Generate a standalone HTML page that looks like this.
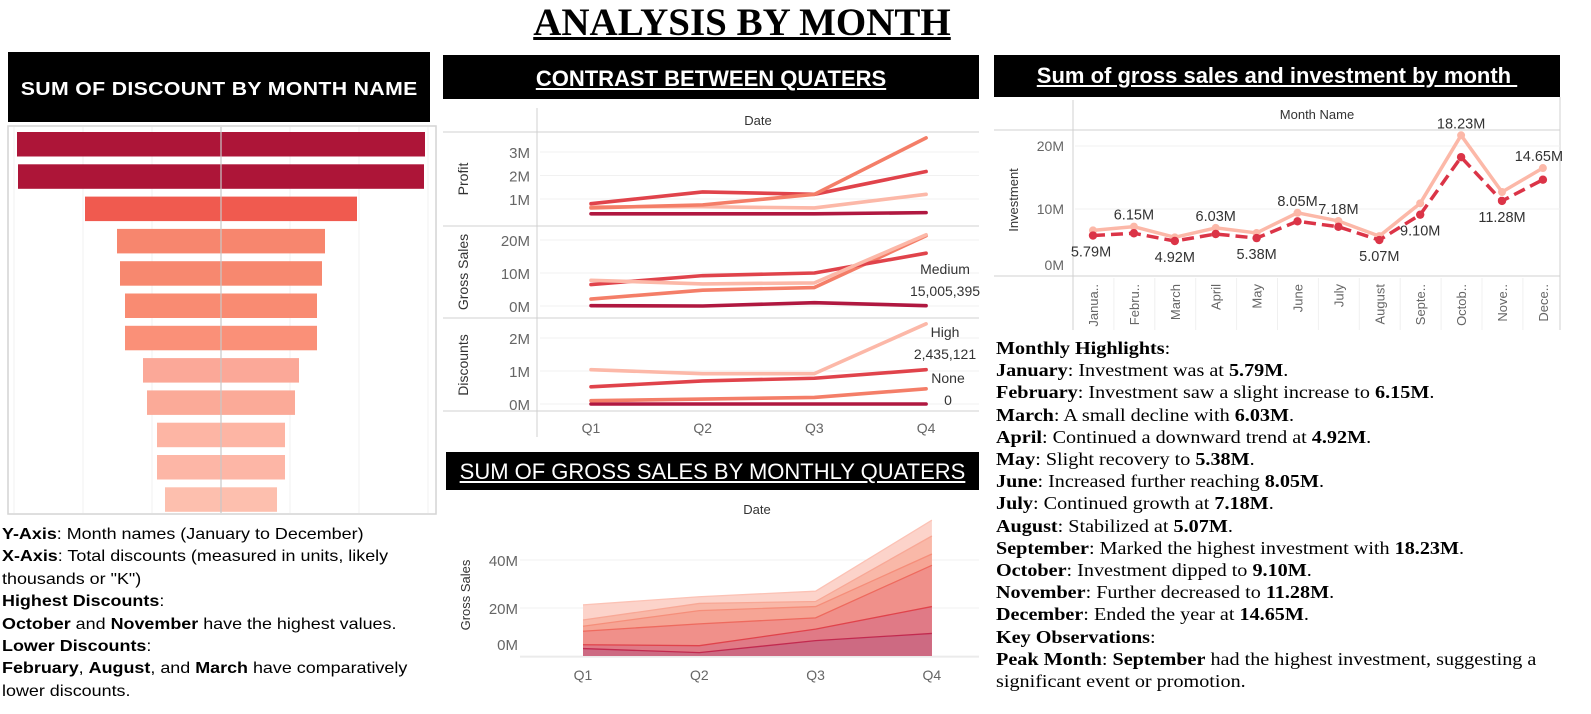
<!DOCTYPE html>
<html><head><meta charset="utf-8">
<style>
*{margin:0;padding:0;box-sizing:border-box}
body{width:1591px;height:714px;background:#fff;position:relative;overflow:hidden;font-family:"Liberation Sans",sans-serif}
.abs{position:absolute}
.box{position:absolute;background:#000;color:#fff;text-align:center;text-decoration:underline;white-space:nowrap}
.ltext{position:absolute;left:2px;top:524px;font-size:16px;line-height:22.4px;color:#000;white-space:nowrap;transform:scaleX(1.12);transform-origin:0 0}
.rtext{position:absolute;left:996px;top:337px;font-family:"Liberation Serif",serif;font-size:18px;line-height:22.2px;color:#000;white-space:nowrap;transform:scaleX(1.12);transform-origin:0 0}
svg text{font-family:"Liberation Sans",sans-serif}
</style></head><body>
<div class="abs" style="left:0;width:1484px;top:0px;text-align:center;font-family:'Liberation Serif',serif;font-weight:bold;font-size:39px;text-decoration:underline">ANALYSIS BY MONTH</div>

<div class="box" style="left:8px;top:52px;width:422px;height:70px;line-height:74px;font-size:18px;font-weight:bold;letter-spacing:0.3px"><span style="display:inline-block;transform:scaleX(1.18)">SUM OF DISCOUNT BY MONTH NAME</span></div>
<div class="box" style="left:443px;top:55px;width:536px;height:44px;line-height:48px;font-size:22px;font-weight:bold">CONTRAST BETWEEN QUATERS</div>
<div class="box" style="left:446px;top:452px;width:533px;height:38px;line-height:40px;font-size:22px">SUM OF GROSS SALES BY MONTHLY QUATERS</div>
<div class="box" style="left:994px;top:55px;width:566px;height:42px;line-height:42px;font-size:22px;font-weight:bold">Sum of gross sales and investment by month&nbsp;</div>

<svg id="chart" class="abs" style="left:0;top:0" width="1591" height="714"></svg>

<div class="ltext">
<b>Y-Axis</b>: Month names (January to December)<br>
<b>X-Axis</b>: Total discounts (measured in units, likely<br>thousands or "K")<br>
<b>Highest Discounts</b>:<br>
<b>October</b> and <b>November</b> have the highest values.<br>
<b>Lower Discounts</b>:<br>
<b>February</b>, <b>August</b>, and <b>March</b> have comparatively<br>lower discounts.
</div>

<div class="rtext">
<b>Monthly Highlights</b>:<br>
<b>January</b>: Investment was at <b>5.79M</b>.<br>
<b>February</b>: Investment saw a slight increase to <b>6.15M</b>.<br>
<b>March</b>: A small decline with <b>6.03M</b>.<br>
<b>April</b>: Continued a downward trend at <b>4.92M</b>.<br>
<b>May</b>: Slight recovery to <b>5.38M</b>.<br>
<b>June</b>: Increased further reaching <b>8.05M</b>.<br>
<b>July</b>: Continued growth at <b>7.18M</b>.<br>
<b>August</b>: Stabilized at <b>5.07M</b>.<br>
<b>September</b>: Marked the highest investment with <b>18.23M</b>.<br>
<b>October</b>: Investment dipped to <b>9.10M</b>.<br>
<b>November</b>: Further decreased to <b>11.28M</b>.<br>
<b>December</b>: Ended the year at <b>14.65M</b>.<br>
<b>Key Observations</b>:<br>
<b>Peak Month</b>: <b>September</b> had the highest investment, suggesting a<br>significant event or promotion.
</div>

<script>
// ---- Funnel (discount by month) ----
const funnelValues = [204, 203, 136, 104, 101, 96, 96, 78, 74, 64, 64, 56];
const funnelColors = ["#ad1538","#ad1538","#f05a4f","#f7866e","#f7886f","#f98b72","#fa9078","#fba898","#fbaa98","#fdb5a4","#fdb6a6","#fdbfae"];
// ---- Quarter lines ----
const quarters = ["Q1","Q2","Q3","Q4"];
const profitDark = [0.37,0.37,0.37,0.42];
const profitRed = [0.8,1.3,1.2,2.17];
const profitOrange = [0.62,0.75,1.2,3.6];
const profitLight = [0.67,0.67,0.62,1.2];
const grossDark = [0.1,0.0,1.0,0.1];
const grossRed = [6.5,9.2,10.0,16.0];
const grossOrange = [2.1,4.8,5.6,21.3];
const grossLight = [7.8,6.7,7.0,21.6];
const discDark = [0,0,0,0];
const discRed = [0.52,0.7,0.78,1.04];
const discOrange = [0.1,0.15,0.2,0.46];
const discLight = [1.04,0.92,0.92,2.43];
// ---- Area stacks (M) ----
const areaL1 = [3.1,1.4,6.4,9.4];
const areaL2 = [1.6,2.9,4.8,11.2];
const areaL3 = [5.6,9.1,4.7,17.2];
const areaL4 = [2.1,5.5,4.7,4.7];
const areaL5 = [2.6,3.0,2.1,7.5];
const areaL6 = [6.3,2.8,4.3,6.6];
// ---- Investment ----
const months = ["Janua..","Febru..","March","April","May","June","July","August","Septe..","Octob..","Nove..","Dece.."];
const investment = [5.79,6.15,4.92,6.03,5.38,8.05,7.18,5.07,9.10,18.23,11.28,14.65];
const investLabels = ["5.79M","6.15M","4.92M","6.03M","5.38M","8.05M","7.18M","5.07M","9.10M","18.23M","11.28M","14.65M"];
const labelBelow = [1,0,1,0,1,0,0,1,1,0,1,0];
const grossSales = [6.6,7.2,5.5,7.0,6.2,9.4,8.1,5.7,10.9,21.7,12.7,16.5];

const svg = document.getElementById('chart');
const NS = "http://www.w3.org/2000/svg";
function mk(tag, attrs, parent){const e=document.createElementNS(NS,tag);for(const k in attrs)e.setAttribute(k,attrs[k]);(parent||svg).appendChild(e);return e;}
function txt(x,y,s,attrs){const t=mk('text',Object.assign({x:x,y:y},attrs||{}));t.textContent=s;return t;}

// Funnel frame
const ff = mk('rect',{x:8,y:126,width:428,height:388,fill:'none',stroke:'#d4d4d4','stroke-width':1.5});


[14,83,152,290,359,428].forEach(x=>mk('line',{x1:x,x2:x,y1:127,y2:513,stroke:'#f0f0f0'}));
const fcx = 221;
funnelValues.forEach((v,i)=>{
  const y = 132 + i*32.3;
  const r = mk('rect',{x:fcx-v,y:y,width:2*v,height:24.5,fill:funnelColors[i]});
  
  
});
mk('line',{x1:fcx,x2:fcx,y1:127,y2:513,stroke:'#c8c8c8','stroke-width':1.2});

// Quarter multi-panel
const qx = i => 591 + i*111.7;
mk('line',{x1:443,x2:979,y1:132,y2:132,stroke:'#d0d0d0'});
mk('line',{x1:443,x2:979,y1:226,y2:226,stroke:'#d0d0d0'});
mk('line',{x1:443,x2:979,y1:318,y2:318,stroke:'#d0d0d0'});
mk('line',{x1:443,x2:979,y1:411,y2:411,stroke:'#d0d0d0'});
mk('line',{x1:537,x2:537,y1:108,y2:437,stroke:'#d0d0d0'});
const dh = txt(758,125,'Date',{'font-size':13,fill:'#333','text-anchor':'middle'});


const panels = [
  {name:'Profit',zero:222.5,scale:23.5,ticks:[1,2,3],fmt:v=>v+'M',series:[profitDark,profitLight,profitRed,profitOrange]},
  {name:'Gross Sales',zero:306,scale:3.3,ticks:[0,10,20],fmt:v=>v+'M',series:[grossDark,grossOrange,grossRed,grossLight]},
  {name:'Discounts',zero:404,scale:33,ticks:[0,1,2],fmt:v=>v+'M',series:[discDark,discOrange,discRed,discLight]}
];
const qColors = {d:'#b01840',r:'#e0434b',o:'#f47e68',l:'#fcb8a8'};
panels.forEach((p,pi)=>{
  const yOf = v => p.zero - v*p.scale;
  p.ticks.forEach(t=>{
    mk('line',{x1:540,x2:979,y1:yOf(t),y2:yOf(t),stroke:'#f1f1f1'});
    txt(530,yOf(t)+6,p.fmt(t),{'font-size':15,fill:'#666','text-anchor':'end'});
  });
  const mid = pi===0?179:(pi===1?272:365);
  const at = txt(468,mid,p.name,{'font-size':14,fill:'#333','text-anchor':'middle',transform:'rotate(-90 468 '+mid+')'});
  
  
  const cols = pi===0?[qColors.d,qColors.l,qColors.r,qColors.o]:[qColors.d,qColors.o,qColors.r,qColors.l];
  p.series.forEach((s,si)=>{
    const pts = s.map((v,i)=>qx(i)+','+yOf(v)).join(' ');
    const pl = mk('polyline',{points:pts,fill:'none',stroke:cols[si],'stroke-width':3.6,'stroke-linejoin':'round','stroke-linecap':'round'});
    
    
  });
});
txt(945,274,'Medium',{'font-size':14,fill:'#333','text-anchor':'middle'});
txt(945,296,'15,005,395',{'font-size':14,fill:'#333','text-anchor':'middle'});
txt(945,337,'High',{'font-size':14,fill:'#333','text-anchor':'middle'});
txt(945,359,'2,435,121',{'font-size':14,fill:'#333','text-anchor':'middle'});
txt(948,383,'None',{'font-size':14,fill:'#333','text-anchor':'middle'});
txt(948,405,'0',{'font-size':14,fill:'#333','text-anchor':'middle'});
quarters.forEach((q,i)=>txt(qx(i),433,q,{'font-size':14,fill:'#666','text-anchor':'middle'}));

// Area chart
const ax = i => 583 + i*116.3;
const aZero = 656, aScale = 2.4;
const ay = v => aZero - v*aScale;
const ah = txt(757,514,'Date',{'font-size':13,fill:'#333','text-anchor':'middle'});


[0,20,40].forEach(t=>{
  mk('line',{x1:520,x2:979,y1:ay(t),y2:ay(t),stroke:'#f0f0f0'});
  txt(518,(t===0?650:ay(t)+6),t+'M',{'font-size':15,fill:'#666','text-anchor':'end'});
});
txt(470,595,'Gross Sales',{'font-size':13,fill:'#333','text-anchor':'middle',transform:'rotate(-90 470 595)'});
const layers=[areaL1,areaL2,areaL3,areaL4,areaL5,areaL6];
const aCols=['#cd6a82','#e07a86','#f0908a','#f6a595','#f9b8a8','#fcd3ca'];
const aLine=['#c22a4f','#e0434b','#ee6a5e','#f58e7a','#f8a896','#fcc2b5'];
let base=[0,0,0,0];
const shapes=[];
layers.forEach((L,li)=>{
  const top=base.map((b,i)=>b+L[i]);
  shapes.push({top:top.slice(),base:base.slice(),li:li});
  base=top;
});
shapes.slice().reverse().forEach(s=>{
  const pts = s.top.map((v,i)=>ax(i)+','+ay(v)).concat([ax(3)+','+aZero, ax(0)+','+aZero]).join(' ');
  const pg = mk('polygon',{points:pts,fill:aCols[s.li]});
  
  
  mk('polyline',{points:s.top.map((v,i)=>ax(i)+','+ay(v)).join(' '),fill:'none',stroke:aLine[s.li],'stroke-width':1.3});
});
mk('line',{x1:520,x2:979,y1:aZero+1,y2:aZero+1,stroke:'#e6e6e6'});
quarters.forEach((q,i)=>txt(ax(i),680,q,{'font-size':14,fill:'#666','text-anchor':'middle'}));

// Investment chart
const mx = i => 1093 + i*40.9;
const iZero=272, iScale=6.3;
const iy = v => iZero - v*iScale;
mk('line',{x1:994,x2:1560,y1:130,y2:130,stroke:'#d0d0d0'});
mk('line',{x1:1073,x2:1073,y1:100,y2:330,stroke:'#d0d0d0'});
mk('line',{x1:994,x2:1560,y1:iZero+4,y2:iZero+4,stroke:'#d0d0d0'});
mk('line',{x1:1560,x2:1560,y1:97,y2:330,stroke:'#d0d0d0'});
const mh=txt(1317,119,'Month Name',{'font-size':13,fill:'#333','text-anchor':'middle'});


[0,10,20].forEach(t=>{
  if(t>0) mk('line',{x1:1075,x2:1560,y1:iy(t),y2:iy(t),stroke:'#f0f0f0'});
  txt(1064,(t===0?iy(t)-2:iy(t)+5),t+'M',{'font-size':14,fill:'#666','text-anchor':'end'});
});
txt(1018,200,'Investment',{'font-size':13,fill:'#333','text-anchor':'middle',transform:'rotate(-90 1018 200)'});
const gl = mk('polyline',{points:grossSales.map((v,i)=>mx(i)+','+iy(v)).join(' '),fill:'none',stroke:'#fcb8a8','stroke-width':3.5,'stroke-linejoin':'round'});


grossSales.forEach((v,i)=>mk('circle',{cx:mx(i),cy:iy(v),r:4,fill:'#fcb8a8'}));
const il = mk('polyline',{points:investment.map((v,i)=>mx(i)+','+iy(v)).join(' '),fill:'none',stroke:'#db3447','stroke-width':3.5,'stroke-dasharray':'12 6','stroke-linejoin':'round'});


investment.forEach((v,i)=>mk('circle',{cx:mx(i),cy:iy(v),r:4.2,fill:'#db3447'}));
investment.forEach((v,i)=>{
  const y = labelBelow[i] ? iy(v)+21 : iy(grossSales[i])-7;
  txt(mx(i)+(i===0?-2:0)+(i===11?-4:0), y, investLabels[i], {'font-size':14.5,fill:'#333','text-anchor':'middle'});
});
months.forEach((m,i)=>{
  const x=mx(i)+5;
  txt(x,284,m,{'font-size':13,fill:'#666','text-anchor':'end',transform:'rotate(-90 '+x+' 284)'});
  if(i>0) mk('line',{x1:mx(i)-20,x2:mx(i)-20,y1:278,y2:330,stroke:'#f0f0f0'});
});
</script>
</body></html>
